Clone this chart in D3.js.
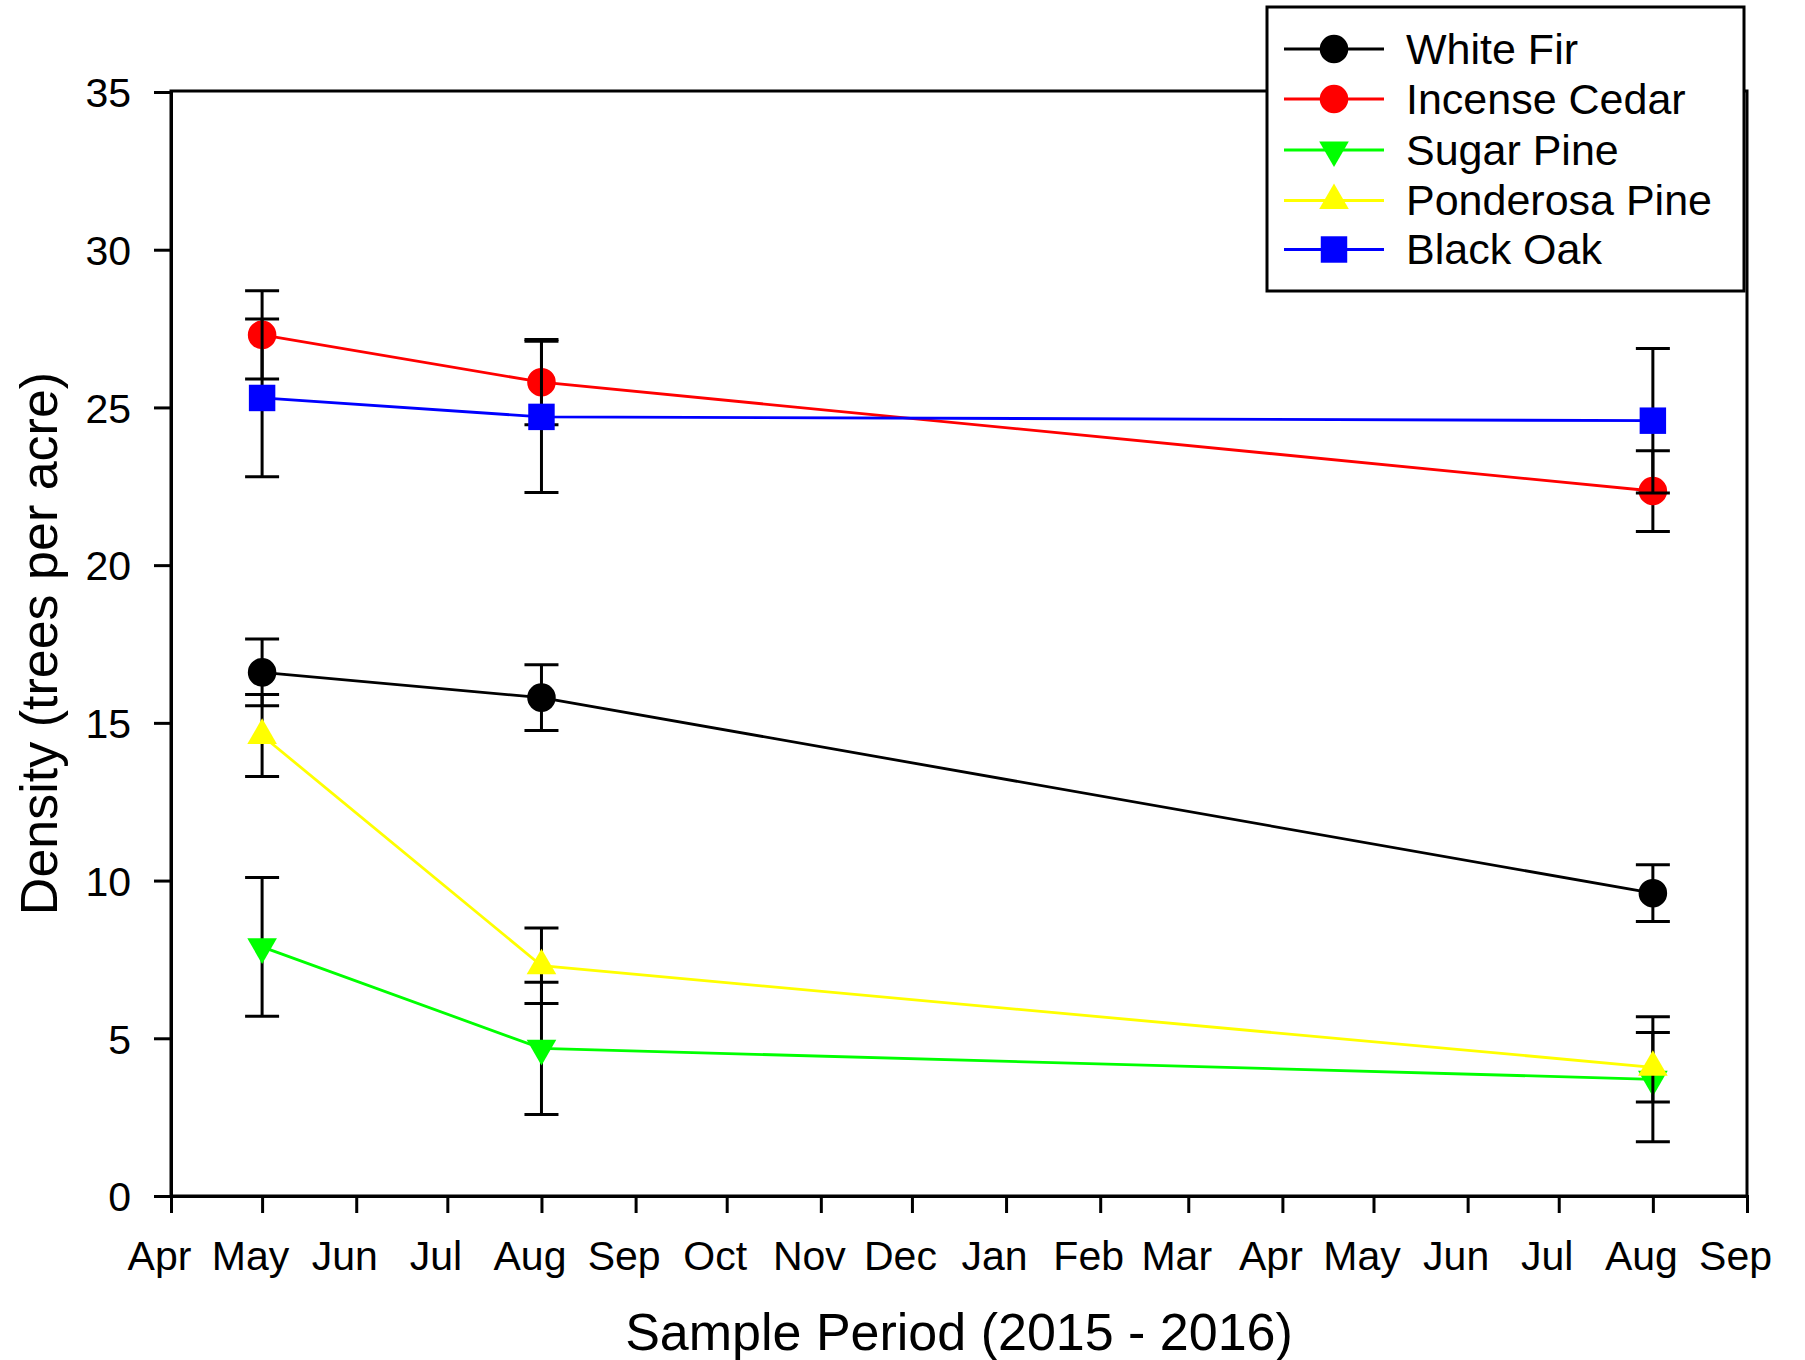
<!DOCTYPE html>
<html>
<head>
<meta charset="utf-8">
<script src="https://cdn.jsdelivr.net/npm/d3@7"></script>
<style>
  html, body { margin: 0; padding: 0; background: #fff; }
  svg { display: block; }
  text { font-family: "Liberation Sans", Arial, sans-serif; fill: #000; }
</style>
</head>
<body>
<svg id="chart" width="1805" height="1360"></svg>
<script>
// ---- Data ----
const sampleDates = ["2015-05-01", "2015-08-01", "2016-08-01"];
const seriesNames = ["White Fir", "Incense Cedar", "Sugar Pine", "Ponderosa Pine", "Black Oak"];
const seriesColors = ["#000000", "#ff0000", "#00ff00", "#ffff00", "#0000ff"];
const seriesSymbols = ["circle", "circle", "triangleDown", "triangleUp", "square"];

const whiteFir = [16.6, 15.8, 9.6];
const whiteFirErr = [1.06, 1.04, 0.9];
const incenseCedar = [27.3, 25.8, 22.35];
const incenseCedarErr = [1.4, 1.35, 1.28];
const sugarPine = [7.9, 4.68, 3.7];
const sugarPineErr = [2.2, 2.1, 1.98];
const ponderosaPine = [14.6, 7.3, 4.08];
const ponderosaPineErr = [1.3, 1.2, 1.1];
const blackOak = [25.3, 24.7, 24.58];
const blackOakErr = [2.5, 2.4, 2.29];

const yTicks = [0, 5, 10, 15, 20, 25, 30, 35];
const xDomain = ["2015-04-01", "2016-09-01"];
const xTitle = "Sample Period (2015 - 2016)";
const yTitle = "Density (trees per acre)";

const seriesValues = [whiteFir, incenseCedar, sugarPine, ponderosaPine, blackOak];
const seriesErrors = [whiteFirErr, incenseCedarErr, sugarPineErr, ponderosaPineErr, blackOakErr];

// ---- Layout ----
const L = 171, R = 1747, T = 91, B = 1196;
const parse = d3.utcParse("%Y-%m-%d");
const x = d3.scaleUtc().domain(xDomain.map(parse)).range([L, R]);
const y = d3.scaleLinear().domain([0, 35]).range([B, T + 1]);

const svg = d3.select("#chart");

// frame
svg.append("rect").attr("x", L).attr("y", T).attr("width", R - L).attr("height", B - T)
  .attr("fill", "none").attr("stroke", "#000").attr("stroke-width", 3);

// y axis
const yAxis = svg.append("g").attr("transform", `translate(${L},0)`)
  .call(d3.axisLeft(y).tickValues(yTicks).tickSize(17).tickPadding(23).tickFormat(d3.format("d")));
yAxis.select(".domain").attr("stroke-width", 3);
yAxis.selectAll(".tick line").attr("stroke-width", 3);
yAxis.selectAll(".tick text").attr("font-size", 41).attr("font-family", "Liberation Sans, Arial, sans-serif").attr("dy", "0.36em");

// x axis
const months = d3.utcMonth.range(parse(xDomain[0]), d3.utcDay.offset(parse(xDomain[1]), 1));
const xAxis = svg.append("g").attr("transform", `translate(0,${B})`)
  .call(d3.axisBottom(x).tickValues(months).tickSize(17).tickPadding(20).tickFormat(d3.utcFormat("%b")));
xAxis.select(".domain").attr("stroke-width", 3);
xAxis.selectAll(".tick line").attr("stroke-width", 3);
xAxis.selectAll(".tick text").attr("font-size", 41).attr("font-family", "Liberation Sans, Arial, sans-serif")
  .attr("dx", -12).attr("dy", "0.9em");

// titles
svg.append("text").attr("x", (L + R) / 2).attr("y", 1350).attr("text-anchor", "middle")
  .attr("font-size", 52).text(xTitle);
svg.append("text").attr("transform", `translate(57,${(T + B) / 2}) rotate(-90)`)
  .attr("text-anchor", "middle").attr("font-size", 52).text(yTitle);

// symbols
function symbolPath(kind) {
  if (kind === "circle") return d3.symbol(d3.symbolCircle, 640)();
  if (kind === "square") return d3.symbol(d3.symbolSquare, 700)();
  return d3.symbol(d3.symbolTriangle, 380)();
}
function symbolTransform(kind, px, py) {
  return kind === "triangleDown" ? `translate(${px},${py}) rotate(180)` : `translate(${px},${py})`;
}

const dates = sampleDates.map(parse);
const line = d3.line().x(d => x(d[0])).y(d => y(d[1]));
const capW = 17;

seriesNames.forEach((name, i) => {
  const vals = seriesValues[i], errs = seriesErrors[i];
  const pts = dates.map((d, j) => [d, vals[j], errs[j]]);
  const g = svg.append("g");
  g.append("path").attr("d", line(pts)).attr("fill", "none")
    .attr("stroke", seriesColors[i]).attr("stroke-width", 2.8);
  const eb = g.selectAll(".eb").data(pts).join("g");
  eb.append("line").attr("x1", d => x(d[0])).attr("x2", d => x(d[0]))
    .attr("y1", d => y(d[1] - d[2])).attr("y2", d => y(d[1] + d[2]))
    .attr("stroke", "#000").attr("stroke-width", 3);
  [-1, 1].forEach(s => {
    eb.append("line").attr("x1", d => x(d[0]) - capW).attr("x2", d => x(d[0]) + capW)
      .attr("y1", d => y(d[1] + s * d[2])).attr("y2", d => y(d[1] + s * d[2]))
      .attr("stroke", "#000").attr("stroke-width", 3);
  });
  g.selectAll(".mk").data(pts).join("path")
    .attr("d", symbolPath(seriesSymbols[i]))
    .attr("transform", d => symbolTransform(seriesSymbols[i], x(d[0]), y(d[1])))
    .attr("fill", seriesColors[i]);
});

// legend
const lg = svg.append("g");
lg.append("rect").attr("x", 1267).attr("y", 7).attr("width", 477).attr("height", 284)
  .attr("fill", "#fff").attr("stroke", "#000").attr("stroke-width", 3);
const rowY = [49, 99, 150, 200.5, 249.5];
seriesNames.forEach((name, i) => {
  const cy = rowY[i];
  lg.append("line").attr("x1", 1284).attr("x2", 1384).attr("y1", cy).attr("y2", cy)
    .attr("stroke", seriesColors[i]).attr("stroke-width", 3);
  lg.append("path").attr("d", symbolPath(seriesSymbols[i]))
    .attr("transform", symbolTransform(seriesSymbols[i], 1334, cy)).attr("fill", seriesColors[i]);
  lg.append("text").attr("x", 1406).attr("y", cy + 14.5).attr("font-size", 43).text(name);
});
</script>
</body>
</html>
